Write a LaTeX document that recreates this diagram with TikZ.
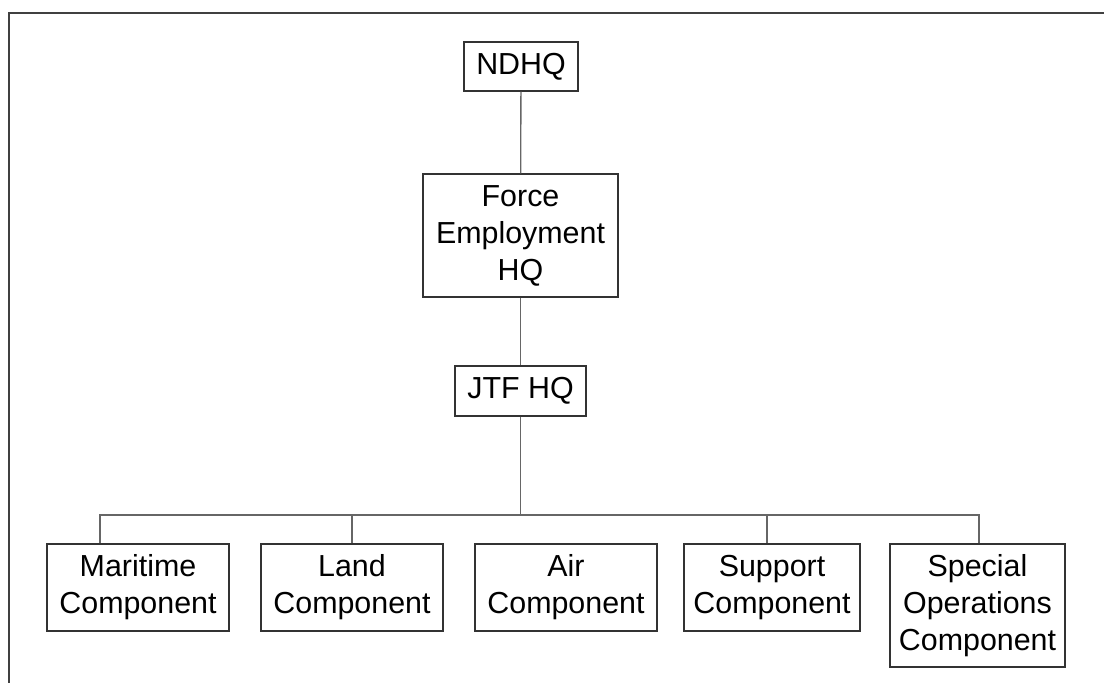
\documentclass[tikz,border=0pt]{standalone}
\usepackage{fontspec}
\setmainfont{Liberation Sans}
\usepackage{tikz}

\begin{document}
\begin{tikzpicture}[x=0.75pt,y=-0.75pt,
  unit/.style={draw=black!80,line width=0.9pt,align=center,inner sep=0pt,
    font=\fontsize{22.8}{27.75}\selectfont},
  comp/.style={unit,minimum width=136.5pt,minimum height=65.25pt},
  link/.style={draw=black!60,line width=1pt}]
\useasboundingbox (0,0) rectangle (1104,683);
\draw[black!75,line width=1.4pt] (1104,13) -- (9,13) -- (9,683);

\node[unit,minimum width=85.5pt,minimum height=36.75pt] (ndhq) at (521,66.5) {NDHQ};

\node[unit,minimum width=146.25pt,minimum height=92.25pt] (feh) at (520.5,235.5) {Force\\Employment\\HQ};

\node[unit,minimum width=98.25pt,minimum height=37.5pt] (jtf) at (520.5,391) {JTF HQ};

\node[comp] (mar) at (138,587.5) {Maritime\\Component};
\node[comp] (land) at (352,587.5) {Land\\Component};
\node[comp] (air) at (566,587.5) {Air\\Component};
\node[comp,minimum width=132pt] (sup) at (772,587.5) {Support\\Component};
\node[unit,minimum width=131.25pt,minimum height=92.25pt] (spec) at (977.5,605.5) {Special\\Operations\\Component};

\coordinate (busL) at (100,515);
\coordinate (busR) at (979,515);
\coordinate (supT) at (767,515);

\draw[link] (ndhq) -- (feh);
\draw[link] (feh) -- (jtf);
\draw[link] (jtf) -- (jtf |- busL);
\draw[link] (busL |- mar.north) -- (busL) -- (busR) -- (busR |- spec.north);
\draw[link] (land) -- (land |- busL);
\draw[link] (supT) -- (supT |- sup.north);
\end{tikzpicture}
\end{document}
